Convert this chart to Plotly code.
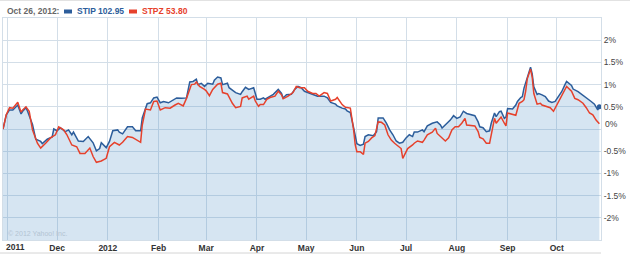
import pandas as pd
import plotly.graph_objects as go

START = "2011-10-29"

# STIP: day offset from START, % change
stip_days = [0, 2, 4, 6, 9, 11, 12, 14, 15, 18, 20, 23, 24, 27, 30, 31, 33, 35, 38, 40, 42, 43, 46, 49,
             52, 55, 57, 59, 60, 63, 65, 67, 70, 71, 73, 76, 79, 81, 84, 85, 88, 90, 92, 94, 96, 98,
             101, 104, 106, 109, 112, 114, 116, 118, 119, 121, 123, 125, 128, 129, 131, 133, 134, 137,
             138, 142, 145, 146, 148, 150, 153, 154, 155, 157, 159, 160, 163, 165, 168, 170, 171, 173,
             176, 178, 180, 182, 184, 186, 189, 192, 195, 196, 198, 200, 203, 204, 207, 209, 210, 212,
             214, 216, 218, 220, 221, 223, 226, 228, 229, 231, 232, 234, 236, 238, 240, 242, 244, 246,
             248, 250, 251, 253, 256, 257, 259, 262, 265, 267, 268, 271, 273, 275, 277, 279, 281, 283,
             286, 288, 290, 291, 293, 295, 297, 298, 300, 301, 303, 304, 306, 307, 308, 311, 313, 314,
             316, 317, 318, 320, 322, 323, 324, 326, 327, 329, 331, 333, 335, 337, 339, 341, 343, 344,
             347, 348, 351, 353, 355, 357, 359, 361, 363, 364]
stip_pct = [0.0, 0.32, 0.43, 0.43, 0.54, 0.34, 0.40, 0.48, 0.40, 0.10, -0.23, -0.28, -0.33, -0.23,
            -0.18, 0.0, -0.04, 0.03, -0.06, -0.02, -0.13, -0.07, -0.27, -0.28, -0.17, -0.31, -0.49,
            -0.44, -0.31, -0.42, -0.28, -0.04, -0.02, -0.07, -0.11, 0.05, 0.05, -0.04, -0.04, 0.25,
            0.57, 0.59, 0.70, 0.72, 0.59, 0.62, 0.59, 0.66, 0.70, 0.69, 0.70, 1.06, 1.07, 1.12, 1.00,
            1.03, 0.96, 1.03, 1.01, 1.10, 1.17, 1.15, 1.00, 1.03, 0.93, 0.82, 0.78, 0.84, 0.94, 0.89,
            0.93, 0.80, 0.67, 0.67, 0.70, 0.67, 0.74, 0.78, 0.89, 0.80, 0.70, 0.77, 0.78, 0.89, 0.96,
            0.93, 0.85, 0.82, 0.78, 0.74, 0.74, 0.74, 0.70, 0.60, 0.56, 0.52, 0.47, 0.45, 0.41, 0.37,
            0.03, -0.33, -0.37, -0.34, -0.17, -0.13, -0.15, -0.06, 0.25, 0.24, 0.25, 0.13, -0.02, -0.13,
            -0.27, -0.32, -0.30, -0.20, -0.13, -0.17, -0.07, -0.07, -0.02, -0.06, 0.07, 0.13, 0.16,
            0.09, 0.02, 0.13, 0.20, 0.30, 0.24, 0.27, 0.40, 0.35, 0.31, 0.30, 0.16, 0.05, 0.03, -0.06,
            -0.04, 0.13, 0.36, 0.28, 0.39, 0.40, 0.24, 0.27, 0.46, 0.45, 0.54, 0.62, 0.71, 0.73, 0.92,
            1.17, 1.39, 1.24, 0.95, 0.78, 0.80, 0.77, 0.73, 0.63, 0.60, 0.62, 0.73, 0.84, 1.00, 1.07,
            0.98, 0.90, 0.84, 0.79, 0.73, 0.68, 0.62, 0.56, 0.43, 0.50]

# STPZ: day offset from START, % change
stpz_days = [0, 2, 4, 6, 9, 11, 12, 14, 16, 18, 21, 23, 26, 29, 32, 34, 37, 39, 42, 45, 47, 50, 53, 55,
             57, 60, 63, 65, 68, 71, 73, 76, 79, 82, 84, 85, 87, 90, 92, 94, 96, 99, 102, 105, 107, 110,
             112, 115, 117, 118, 120, 123, 124, 126, 128, 131, 133, 134, 137, 140, 142, 145, 146, 149,
             150, 153, 154, 156, 157, 159, 161, 163, 166, 168, 170, 171, 174, 177, 179, 181, 184, 186,
             189, 191, 193, 196, 198, 200, 203, 204, 207, 209, 212, 214, 215, 216, 218, 220, 221, 223,
             225, 227, 229, 231, 233, 235, 237, 239, 242, 243, 244, 245, 247, 250, 251, 253, 256, 257,
             259, 262, 264, 265, 268, 270, 272, 274, 276, 278, 280, 282, 283, 286, 288, 290, 291, 293,
             295, 297, 298, 300, 301, 303, 304, 306, 307, 308, 311, 313, 315, 317, 318, 319, 320, 322,
             323, 324, 326, 328, 329, 332, 334, 336, 338, 340, 342, 344, 347, 349, 351, 354, 356, 358,
             360, 362, 364]
stpz_pct = [0.0, 0.32, 0.48, 0.47, 0.60, 0.38, 0.43, 0.50, 0.40, -0.02, -0.32, -0.43, -0.32, -0.20,
            -0.13, 0.05, -0.02, -0.13, -0.36, -0.40, -0.55, -0.55, -0.43, -0.62, -0.75, -0.72, -0.66,
            -0.40, -0.30, -0.36, -0.30, -0.17, -0.19, -0.26, -0.30, 0.09, 0.45, 0.43, 0.62, 0.63, 0.43,
            0.48, 0.47, 0.54, 0.58, 0.52, 0.69, 1.00, 1.01, 1.06, 0.96, 0.89, 0.86, 0.75, 0.89, 1.01,
            1.03, 0.82, 0.79, 0.58, 0.48, 0.51, 0.70, 0.74, 0.67, 0.74, 0.63, 0.51, 0.55, 0.55, 0.67,
            0.71, 0.74, 0.85, 0.77, 0.68, 0.74, 0.82, 0.96, 0.93, 0.93, 0.85, 0.80, 0.80, 0.74, 0.82,
            0.80, 0.63, 0.67, 0.71, 0.55, 0.49, 0.47, -0.02, -0.36, -0.51, -0.51, -0.57, -0.32, -0.28,
            -0.20, -0.15, 0.16, 0.15, 0.09, -0.13, -0.25, -0.32, -0.40, -0.44, -0.66, -0.58, -0.44,
            -0.36, -0.32, -0.27, -0.30, -0.25, -0.13, -0.07, 0.02, -0.10, -0.20, -0.27, -0.20, -0.02,
            0.05, 0.05, 0.13, 0.24, 0.09, 0.07, 0.07, -0.06, -0.19, -0.22, -0.32, -0.32, -0.13, 0.24,
            0.13, 0.24, 0.27, 0.13, 0.07, 0.36, 0.32, 0.31, 0.58, 0.62, 0.66, 0.85, 1.13, 1.35, 1.17,
            0.80, 0.56, 0.58, 0.54, 0.51, 0.48, 0.40, 0.54, 0.69, 0.80, 0.96, 0.85, 0.69, 0.66, 0.58,
            0.48, 0.36, 0.32, 0.20, 0.12]

month_ticks = ["2011-11-01", "2011-12-01", "2012-01-01", "2012-02-01", "2012-03-01", "2012-04-01",
               "2012-05-01", "2012-06-01", "2012-07-01", "2012-08-01", "2012-09-01", "2012-10-01"]
month_labels = ["", "Dec", "2012", "Feb", "Mar", "Apr", "May", "Jun", "Jul", "Aug", "Sep", "Oct"]
y_ticks = [-2.5, -2, -1.5, -1, -0.5, 0, 0.5, 1, 1.5, 2, 2.5]
y_labels = ["", "-2%", "-1.5%", "-1%", "-0.5%", "", "0.5%", "1%", "1.5%", "2%", ""]

header_date = "Oct 26, 2012:"
stip_label = "STIP 102.95"
stpz_label = "STPZ 53.80"

start = pd.Timestamp(START)
stip_x = [start + pd.Timedelta(days=d) for d in stip_days]
stpz_x = [start + pd.Timedelta(days=d) for d in stpz_days]

BLUE = "#2c5d9b"
RED = "#e6412c"
W, H = 630, 257
L, R, T, B = 3, 601, 18, 240
YMIN, YMAX = -2.5, 2.5


def px(x):
    return (x - L) / (R - L)


def py(y):
    return (B - y) / (B - T)


fig = go.Figure()
fig.add_trace(go.Scatter(x=stip_x, y=[YMIN] * len(stip_x), mode="lines",
                         line=dict(width=0), hoverinfo="skip", showlegend=False))
fig.add_trace(go.Scatter(x=stip_x, y=stip_pct, mode="lines", fill="tonexty",
                         fillcolor="rgba(60,132,192,0.21)",
                         line=dict(color=BLUE, width=1.5), showlegend=False))
fig.add_trace(go.Scatter(x=stpz_x, y=stpz_pct, mode="lines",
                         line=dict(color=RED, width=1.5), showlegend=False))
fig.add_trace(go.Scatter(x=stip_x[-1:], y=stip_pct[-1:], mode="markers",
                         marker=dict(color=BLUE, size=5), showlegend=False))

grid = "#d3dee8"
fig.update_layout(
    width=W, height=H,
    margin=dict(l=L, r=W - R, t=T, b=H - B),
    paper_bgcolor="white", plot_bgcolor="white",
    font=dict(family="Liberation Sans, Arial, sans-serif", size=9, color="#333"),
    xaxis=dict(type="date", range=[start, start + pd.Timedelta(days=365)],
               tickmode="array", tickvals=month_ticks, ticktext=month_labels,
               showgrid=True, gridcolor=grid, gridwidth=1, zeroline=False,
               showline=True, linecolor=grid, mirror=True, ticks="",
               tickfont=dict(family="Liberation Sans, Arial, sans-serif", size=8.5, color="#333",
                             weight="bold")),
    yaxis=dict(range=[YMIN, YMAX], side="right", tickmode="array", tickvals=y_ticks,
               ticktext=y_labels, showgrid=True, gridcolor=grid, gridwidth=1, zeroline=False,
               showline=True, linecolor=grid, mirror=True, ticks="",
               tickfont=dict(family="Liberation Sans, Arial, sans-serif", size=8.5, color="#444")),
    shapes=[
        dict(type="rect", xref="paper", yref="paper", x0=px(64), x1=px(72), y0=py(13.5), y1=py(9.5),
             fillcolor=BLUE, line=dict(width=0)),
        dict(type="rect", xref="paper", yref="paper", x0=px(129), x1=px(137), y0=py(13.5), y1=py(9.5),
             fillcolor=RED, line=dict(width=0)),
        dict(type="line", xref="paper", yref="paper", x0=px(0), x1=px(601), y0=py(253), y1=py(253),
             line=dict(color="#d4d4d4", width=1)),
        dict(type="line", xref="paper", yref="paper", x0=px(0), x1=px(630), y0=py(0.5), y1=py(0.5),
             line=dict(color="#e2e2e2", width=1)),
    ],
    annotations=[
        dict(text="<b>" + header_date + "</b>", xref="paper", yref="paper", x=px(5), y=py(11.5),
             xanchor="left", yanchor="middle", showarrow=False,
             font=dict(size=8.5, color="#666")),
        dict(text="<b>" + stip_label + "</b>", xref="paper", yref="paper", x=px(75), y=py(11.5),
             xanchor="left", yanchor="middle", showarrow=False,
             font=dict(size=8.5, color=BLUE)),
        dict(text="<b>" + stpz_label + "</b>", xref="paper", yref="paper", x=px(140), y=py(11.5),
             xanchor="left", yanchor="middle", showarrow=False,
             font=dict(size=8.5, color=RED)),
        dict(text="<b>2011</b>", xref="paper", yref="paper", x=px(4), y=py(247),
             xanchor="left", yanchor="middle", showarrow=False,
             font=dict(size=8.5, color="#333")),
        dict(text="0%", xref="paper", yref="y", x=1, xshift=2, y=0.11,
             xanchor="left", yanchor="middle", showarrow=False,
             font=dict(size=8.5, color="#444")),
        dict(text="© 2012 Yahoo! Inc.", xref="paper", yref="paper", x=px(6), y=py(233),
             xanchor="left", yanchor="middle", showarrow=False,
             font=dict(size=7, color="#b3c4d3")),
    ],
)

fig.write_html("out.html")
